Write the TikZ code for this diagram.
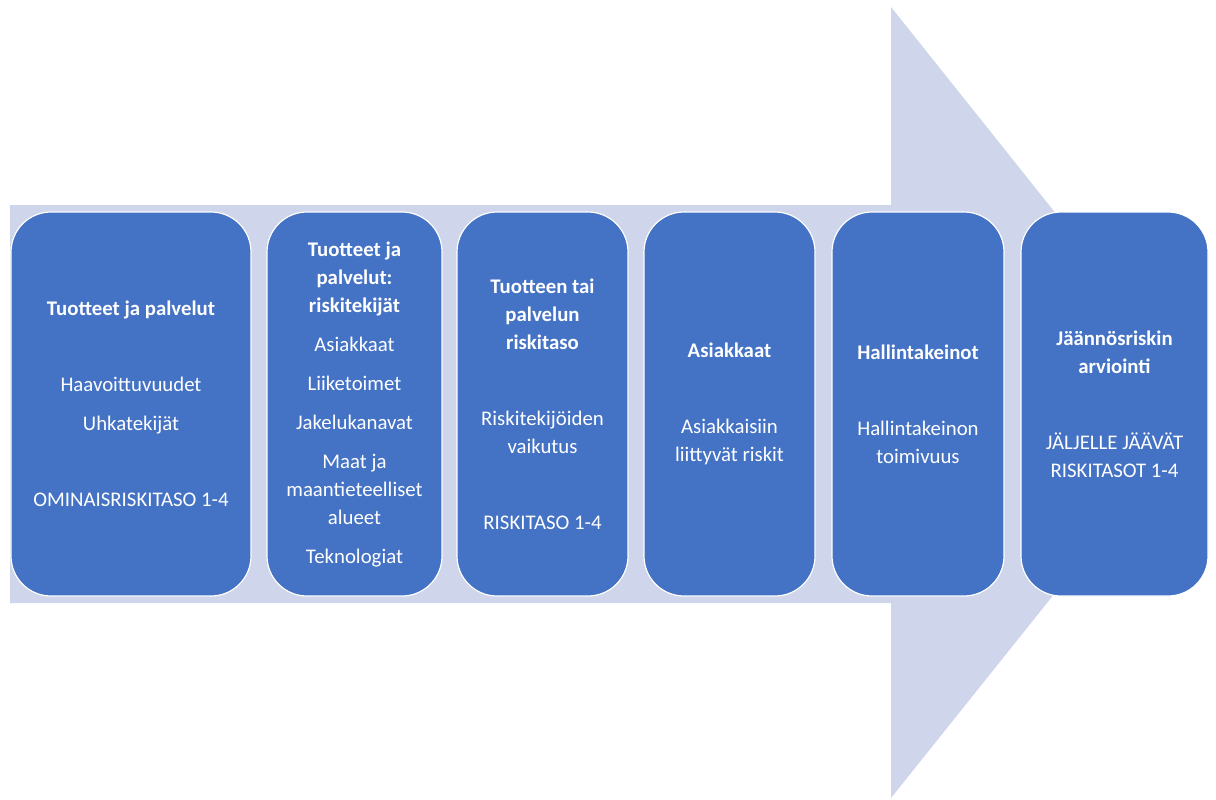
\documentclass[tikz,border=0pt]{standalone}
\usepackage{fontspec}
\setmainfont{Carlito}

\definecolor{boxblue}{HTML}{4472C4}
\definecolor{arrowgrey}{HTML}{CFD5EA}

\begin{document}
\begin{tikzpicture}[x=0.5pt,y=-0.5pt,
  stage/.style={fill=boxblue, draw=white, line width=0.6pt, rounded corners=20pt,
    minimum height=192pt, inner sep=0pt, text=white, align=center,
    font=\fontsize{10.4}{14}\selectfont}]

\useasboundingbox (0,0) rectangle (1216,799);

\fill[arrowgrey] (10,205) -- (891,205) -- (891,7) -- (1207,403) -- (891,798)
  -- (891,603) -- (10,603) -- cycle;

\node[stage, minimum width=120pt] (products) at (131,404)
  {\textbf{Tuotteet ja palvelut}\\[24pt]
   Haavoittuvuudet\\[5.5pt] Uhkatekijät\\[24pt]
   OMINAISRISKITASO 1-4};
\node[stage, minimum width=87.5pt] (factors) at (354.5,404)
  {\textbf{Tuotteet ja}\\ \textbf{palvelut:}\\ \textbf{riskitekijät}\\[5.5pt]
   Asiakkaat\\[5.5pt] Liiketoimet\\[5.5pt] Jakelukanavat\\[5.5pt]
   Maat ja\\ maantieteelliset\\ alueet\\[5.5pt] Teknologiat};
\node[stage, minimum width=85.5pt] (level) at (542.5,404)
  {\textbf{Tuotteen tai}\\ \textbf{palvelun}\\ \textbf{riskitaso}\\[24pt]
   Riskitekijöiden\\ vaikutus\\[24pt] RISKITASO 1-4};
\node[stage, minimum width=85.5pt] (clients) at (729.5,404)
  {\textbf{Asiakkaat}\\[24pt] Asiakkaisiin\\ liittyvät riskit};
\node[stage, minimum width=86pt] (controls) at (918,404)
  {\textbf{Hallintakeinot}\\[24pt] Hallintakeinon\\ toimivuus};
\node[stage, minimum width=93.5pt] (residual) at (1114.5,404)
  {\textbf{Jäännösriskin}\\ \textbf{arviointi}\\[24pt]
   JÄLJELLE JÄÄVÄT\\ RISKITASOT 1-4};

\end{tikzpicture}
\end{document}
